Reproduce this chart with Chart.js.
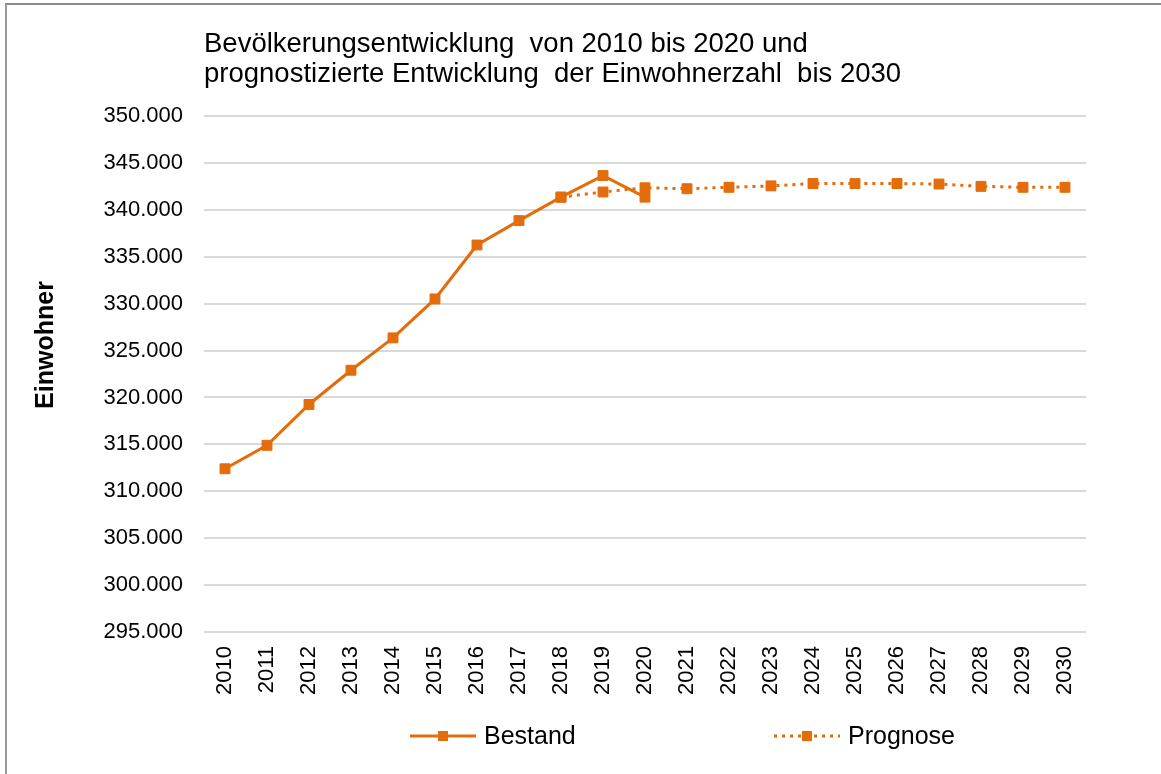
<!DOCTYPE html>
<html>
<head>
<meta charset="utf-8">
<title>Bevölkerungsentwicklung</title>
<script src="https://cdn.jsdelivr.net/npm/chart.js@4.4.1/dist/chart.umd.min.js"></script>
<style>
    html, body { margin: 0; padding: 0; background: #fff; }
    #wrap { position: relative; width: 1161px; height: 774px; overflow: hidden; }
    #frame {
        position: absolute; left: 5px; top: 3px; right: -5px; bottom: -5px;
        border-left: 2px solid #9a9a9a; border-top: 2px solid #8a8a8a;
        pointer-events: none;
    }
    canvas { position: absolute; left: 0; top: 0; }
</style>
</head>
<body>
<div id="wrap">
    <canvas id="chartCanvas" width="1161" height="774"></canvas>
    <div id="frame"></div>
</div>
<script>
const years = ['2010', '2011', '2012', '2013', '2014', '2015', '2016', '2017', '2018', '2019', '2020',
    '2021', '2022', '2023', '2024', '2025', '2026', '2027', '2028', '2029', '2030'];

const bestand = [312400, 314900, 319250, 322900, 326350, 330500, 336250, 338850, 341350, 343650, 341350,
    null, null, null, null, null, null, null, null, null, null];

const prognose = [null, null, null, null, null, null, null, null, 341350, 341900, 342350,
    342250, 342400, 342550, 342800, 342800, 342800, 342750, 342500, 342400, 342400];

const titleLines = ['Bevölkerungsentwicklung  von 2010 bis 2020 und',
    'prognostizierte Entwicklung  der Einwohnerzahl  bis 2030'];
const yTitle = 'Einwohner';
const yMin = 295000;
const yMax = 350000;
const yStep = 5000;

const orange = '#E46C0A';
const fontFamily = '"Liberation Sans", Arial, sans-serif';

Chart.defaults.font.family = fontFamily;
Chart.defaults.color = '#000';

function formatDe(value) {
    return String(value).replace(/\B(?=(\d{3})+(?!\d))/g, '.');
}

// y-axis title and legend are drawn by hand so they sit where the original has them
const extras = {
    id: 'extras',
    afterDraw(chart) {
        const ctx = chart.ctx;
        ctx.save();

        // y-axis title
        ctx.font = 'bold 25px ' + fontFamily;
        ctx.fillStyle = '#000';
        ctx.textAlign = 'center';
        ctx.textBaseline = 'middle';
        ctx.translate(46, 345);
        ctx.rotate(-Math.PI / 2);
        ctx.fillText(yTitle, 0, 0);
        ctx.setTransform(1, 0, 0, 1, 0, 0);

        // legend
        const y = 736;
        const items = [{ ds: chart.data.datasets[0], x: 410 }, { ds: chart.data.datasets[1], x: 774 }];
        items.forEach(item => {
            const ds = item.ds;
            ctx.strokeStyle = ds.borderColor;
            ctx.lineWidth = ds.borderWidth;
            ctx.setLineDash(ds.borderDash || []);
            ctx.beginPath();
            ctx.moveTo(item.x, y);
            ctx.lineTo(item.x + 66, y);
            ctx.stroke();
            ctx.setLineDash([]);
            ctx.fillStyle = ds.pointBackgroundColor;
            ctx.fillRect(item.x + 33 - 5, y - 5, 10, 10);
            ctx.font = '25px ' + fontFamily;
            ctx.fillStyle = '#000';
            ctx.textAlign = 'left';
            ctx.fillText(ds.label, item.x + 74, y + 1);
        });
        ctx.restore();
    }
};

new Chart(document.getElementById('chartCanvas'), {
    type: 'line',
    data: {
        labels: years,
        datasets: [{
            label: 'Bestand',
            data: bestand,
            borderColor: orange,
            backgroundColor: orange,
            pointBackgroundColor: orange,
            pointBorderColor: orange,
            borderWidth: 3,
            pointStyle: 'rect',
            pointRadius: 7,
            pointBorderWidth: 1,
            spanGaps: false
        }, {
            label: 'Prognose',
            data: prognose,
            borderColor: orange,
            backgroundColor: orange,
            pointBackgroundColor: orange,
            pointBorderColor: orange,
            borderWidth: 3,
            borderDash: [3, 5],
            pointStyle: 'rect',
            pointRadius: 7,
            pointBorderWidth: 1,
            spanGaps: false
        }]
    },
    options: {
        responsive: false,
        animation: false,
        layout: {
            padding: { left: 0, right: 75, top: 0, bottom: 0 }
        },
        scales: {
            x: {
                offset: true,
                grid: { display: false, drawTicks: false },
                border: { display: false },
                ticks: {
                    minRotation: 90,
                    maxRotation: 90,
                    autoSkip: false,
                    padding: 14,
                    font: { size: 22 }
                },
                afterFit(scale) {
                    scale.height = 142;
                }
            },
            y: {
                min: yMin,
                max: yMax,
                grid: { color: '#d9d9d9', lineWidth: 2, drawTicks: false },
                border: { display: false },
                ticks: {
                    stepSize: yStep,
                    padding: 21,
                    font: { size: 22 },
                    callback: function(value) {
                        return formatDe(value);
                    }
                },
                afterFit(scale) {
                    scale.width = 204;
                }
            }
        },
        plugins: {
            legend: { display: false },
            tooltip: { enabled: false },
            title: {
                display: true,
                text: titleLines,
                align: 'start',
                fullSize: false,
                color: '#000',
                font: { size: 27.5, weight: 'normal', lineHeight: '30px' },
                padding: { top: 29, bottom: 27 }
            }
        }
    },
    plugins: [extras]
});
</script>
</body>
</html>
